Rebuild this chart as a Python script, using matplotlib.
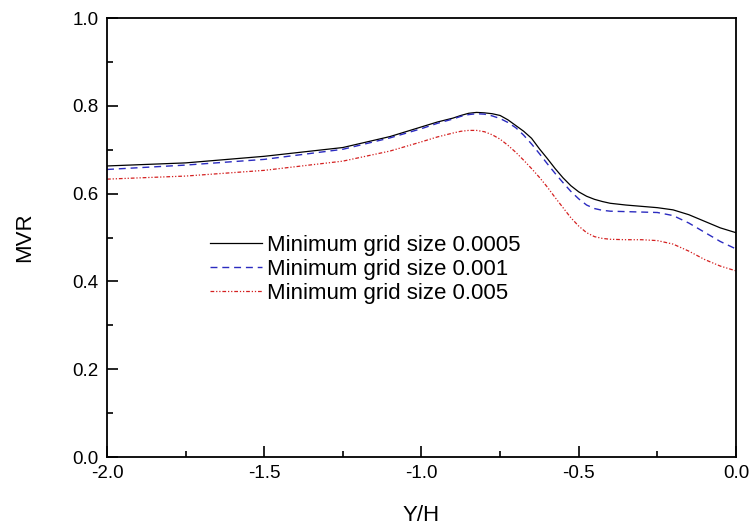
import matplotlib
matplotlib.use("Agg")
import matplotlib.pyplot as plt
from matplotlib.ticker import MultipleLocator, FormatStrFormatter

plt.rcParams['font.family'] = ['Liberation Sans', 'DejaVu Sans']

y_over_h = [-2.0, -1.75, -1.5, -1.25, -1.1, -1.0, -0.95, -0.9, -0.875, -0.85,
            -0.825, -0.8, -0.775, -0.75, -0.725, -0.7, -0.675, -0.65, -0.625, -0.6,
            -0.575, -0.55, -0.525, -0.5, -0.475, -0.45, -0.425, -0.4, -0.35, -0.3,
            -0.25, -0.2, -0.15, -0.1, -0.05, 0.0]

mvr_00005 = [0.663, 0.670, 0.685, 0.705, 0.730, 0.752, 0.763, 0.772, 0.778, 0.783,
             0.785, 0.784, 0.782, 0.778, 0.768, 0.755, 0.742, 0.726, 0.702, 0.680,
             0.657, 0.636, 0.618, 0.604, 0.594, 0.587, 0.582, 0.578, 0.574, 0.571,
             0.568, 0.563, 0.552, 0.537, 0.522, 0.511]

mvr_0001 = [0.655, 0.665, 0.678, 0.701, 0.727, 0.748, 0.760, 0.770, 0.776, 0.780,
            0.782, 0.781, 0.777, 0.771, 0.762, 0.750, 0.733, 0.713, 0.691, 0.668,
            0.646, 0.625, 0.605, 0.588, 0.574, 0.566, 0.562, 0.560, 0.559, 0.558,
            0.557, 0.550, 0.533, 0.512, 0.491, 0.474]

mvr_0005 = [0.633, 0.640, 0.653, 0.674, 0.697, 0.718, 0.729, 0.738, 0.742, 0.744,
            0.744, 0.741, 0.734, 0.724, 0.710, 0.694, 0.676, 0.657, 0.637, 0.615,
            0.591, 0.568, 0.545, 0.526, 0.511, 0.502, 0.498, 0.496, 0.495, 0.495,
            0.493, 0.485, 0.469, 0.450, 0.435, 0.424]

labels = ["Minimum grid size 0.0005", "Minimum grid size 0.001", "Minimum grid size 0.005"]

fig = plt.figure(figsize=(7.51, 5.27), dpi=100)
ax = fig.add_axes([0.1425, 0.1328, 0.8375, 0.833])

ax.plot(y_over_h, mvr_00005, color="black", lw=0.9, ls="-", label=labels[0])
ax.plot(y_over_h, mvr_0001, color="#2b2bc0", lw=1.0, ls=(0, (5, 3.5)), label=labels[1])
ax.plot(y_over_h, mvr_0005, color="#d42020", lw=0.9, ls=(0, (3, 1.5, 1, 1.5, 1, 1.5)), label=labels[2])

ax.set_xlim(-2.0, 0.0)
ax.set_ylim(0.0, 1.0)
ax.xaxis.set_major_locator(MultipleLocator(0.5))
ax.xaxis.set_minor_locator(MultipleLocator(0.25))
ax.yaxis.set_major_locator(MultipleLocator(0.2))
ax.yaxis.set_minor_locator(MultipleLocator(0.1))
ax.xaxis.set_major_formatter(FormatStrFormatter('%.1f'))
ax.yaxis.set_major_formatter(FormatStrFormatter('%.1f'))

ax.tick_params(which="major", direction="in", length=8, width=1.2, labelsize=13.5,
               top=False, right=False, pad=6)
ax.tick_params(which="minor", direction="in", length=4, width=1.2,
               top=False, right=False)
for s in ax.spines.values():
    s.set_linewidth(1.3)

ax.set_xlabel("Y/H", fontsize=16, labelpad=16)
ax.set_ylabel("MVR", fontsize=16, labelpad=27)

ax.legend(loc="upper left", bbox_to_anchor=(0.149, 0.527), frameon=False,
          fontsize=16, handlelength=2.35, handletextpad=0.22, labelspacing=0.14,
          borderaxespad=0)

fig.savefig("out.png", dpi=100)
